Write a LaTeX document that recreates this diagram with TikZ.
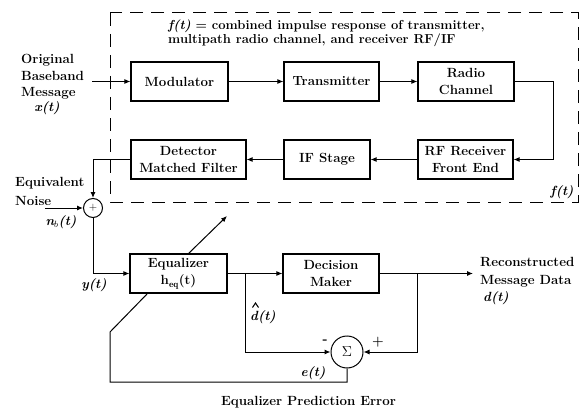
\documentclass[tikz,border=0pt]{standalone}
\usepackage{fontspec}
\usetikzlibrary{arrows.meta}
\begin{document}
\begin{tikzpicture}[x=1pt,y=-1pt,
  every node/.style={font=\fontsize{13.3}{17.5}\selectfont\bfseries},
  blk/.style={draw,line width=1.1pt,fill=white,minimum height=39pt,align=center,inner sep=1pt},
  lbl/.style={inner sep=0pt,align=left},
  ilbl/.style={inner sep=0pt,font=\fontsize{13.3}{16}\selectfont\bfseries\itshape},
  arr/.style={line width=1pt,-{Latex[length=6pt,width=5pt]}},
  ln/.style={line width=1pt},
  fbox/.style={line width=1pt,dash pattern=on 13pt off 8pt}]
\useasboundingbox (0,0) rectangle (584,412);
% dashed enclosure
\draw[fbox] (110,13) rectangle (578,202);
\node[lbl,anchor=base west,font=\fontsize{13}{14}\selectfont\bfseries] (ft) at (168,44) {\textit{f(t)} = combined impulse response of transmitter,\\ multipath radio channel, and receiver RF/IF};
\node[ilbl] (ft2) at (562,192) {f(t)};
% blocks
\node[blk,minimum width=97pt] (mod) at (179.5,81.5) {Modulator};
\node[blk,minimum width=95pt] (tx) at (331.5,81.5) {Transmitter};
\node[blk,minimum width=96pt] (rc) at (466,81.5) {Radio\\Channel};
\node[blk,minimum width=95pt] (rf) at (465.5,159.5) {RF Receiver\\Front End};
\node[blk,minimum width=86pt] (if) at (327,159.5) {IF Stage};
\node[blk,minimum width=115pt] (det) at (188.5,159.5) {Detector\\Matched Filter};
\node[blk,minimum width=97pt] (eq) at (178.5,273.5) {Equalizer\\h$_{\mathbf{eq}}$(t)};
\node[blk,minimum width=96pt] (dm) at (331,273.5) {Decision\\Maker};
\node[draw,circle,line width=1pt,minimum size=19pt,inner sep=0pt,font=\fontsize{11}{12}\selectfont] (add) at (93,208) {+};
\node[draw,circle,line width=1pt,minimum size=32pt,inner sep=0pt,font=\fontsize{15}{16}\selectfont] (sig) at (347,352) {$\Sigma$};
% input
\node[lbl,anchor=base west,font=\fontsize{13.3}{16.5}\selectfont\bfseries] (inl) at (21,96.5) {Original\\Baseband\\Message};
\node[ilbl] (xt) at (47,108) {x(t)};
\coordinate (in) at (92,81.5);
\draw[arr] (in) -- (mod);
\draw[arr] (mod) -- (tx);
\draw[arr] (tx) -- (rc);
\coordinate (rcr) at (553,81.5);
\draw[arr] (rc.east) -- (rcr) |- (rf.east);
\draw[arr] (rf) -- (if);
\draw[arr] (if) -- (det);
\draw[arr] (det.west) -| (add.north);
% noise
\node[lbl,anchor=west] (eqv) at (15,183) {Equivalent};
\node[lbl,anchor=west] (noi) at (15,201) {Noise};
\node[ilbl] (nb) at (61,222) {n$_b$(t)};
\coordinate (nz) at (45,208);
\draw[arr] (nz) -- (add.west);
% equalizer path
\draw[arr] (add.south) |- (eq.west);
\node[ilbl] (yt) at (94,285) {y(t)};
\draw[arr] (eq.east) -- (dm.west);
\coordinate (br1) at (245,273.5);
\draw[arr] (br1) |- (sig.west);
\node[ilbl,anchor=west] (dh) at (250,317) {d(t)};
\draw[line width=1pt,line join=miter] (252.5,307.5) -- (255.5,303) -- (258.5,307.5);
\coordinate (out) at (473,273.5);
\draw[arr] (dm.east) -- (out);
\coordinate (br2) at (417,273.5);
\draw[arr] (br2) |- (sig.east);
\node[lbl] (mi) at (325,342) {-};
\node[lbl] (pl) at (378,342) {+};
\node[lbl,anchor=base west,font=\fontsize{13.3}{18}\selectfont\bfseries] (rec) at (480,284) {Reconstructed\\Message Data};
\node[ilbl,anchor=west] (dt) at (483,298) {d(t)};
% error feedback
\coordinate (c1) at (110,382);
\coordinate (c2) at (110,332);
\coordinate (eqb) at (148,293);
\coordinate (eqt) at (188,254);
\coordinate (adp) at (227,216);
\draw[ln] (sig.south) |- (c1) -- (c2) -- (eqb);
\draw[arr] (eqt) -- (adp);
\node[ilbl] (et) at (313,373) {e(t)};
\node[lbl] (epe) at (308.5,402) {Equalizer Prediction Error};
\end{tikzpicture}
\end{document}
